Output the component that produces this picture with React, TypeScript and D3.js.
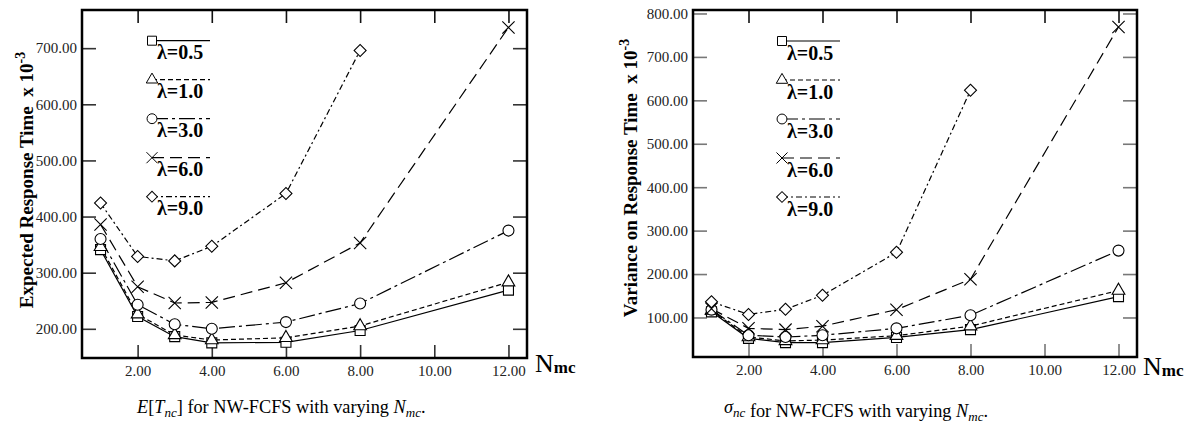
import { useEffect, useRef } from "react";
import * as d3 from "d3";

// number of mobile clients (x axis)
const nmc = [1, 2, 3, 4, 6, 8, 12];
const lambdas = ["0.5", "1.0", "3.0", "6.0", "9.0"];
const xTicks = [2, 4, 6, 8, 10, 12];

// expected response time, x 10^-3
const ert05 = [341, 222, 186, 175, 176, 197, 269];
const ert10 = [346, 226, 189, 180, 184, 205, 283];
const ert30 = [360, 243, 208, 200, 212, 245, 375];
const ert60 = [386, 275, 246, 247, 282, 353, 737];
const ert90 = [424, 329, 321, 347, 441, 696];
const ertTicks = [200, 300, 400, 500, 600, 700];

// variance on response time, x 10^-3
const var05 = [113, 52, 42, 42, 54, 72, 148];
const var10 = [116, 55, 46, 48, 58, 80, 162];
const var30 = [118, 59, 55, 59, 75, 105, 254];
const var60 = [120, 75, 72, 80, 118, 188, 769];
const var90 = [136, 107, 119, 151, 250, 623];
const varTicks = [100, 200, 300, 400, 500, 600, 700, 800];

const serif = "'Liberation Serif', 'Times New Roman', serif";
const dashes = [null, "5,3", "16,4,3,4", "12,6", "6,3,2,3"];

function marker(sel, i) {
  if (i === 0) sel.attr("d", d3.symbol(d3.symbolSquare, 100)());
  else if (i === 1) sel.attr("d", d3.symbol(d3.symbolTriangle, 70)());
  else if (i === 2) sel.attr("d", d3.symbol(d3.symbolCircle, 95)());
  else if (i === 3) sel.attr("d", d3.symbol(d3.symbolTimes, 100)());
  else sel.attr("d", d3.symbol(d3.symbolSquare, 72)());
}

function drawPanel(svg, p) {
  const x = d3.scaleLinear().domain([0.5, 12.5]).range([p.left, p.right]);
  const y = d3.scaleLinear().domain(p.yDomain).range([p.bottom, p.top]);
  const g = svg.append("g");

  const styleAx = (ax, col) => {
    ax.select(".domain").remove();
    ax.selectAll("line").attr("stroke", col).attr("stroke-width", 1.6);
    ax.selectAll("text").attr("font-family", serif).attr("font-size", 15).attr("fill", "#222");
  };

  g.append("g").attr("transform", `translate(0,${p.bottom})`)
    .call(d3.axisBottom(x).tickValues(xTicks).tickSize(-13).tickPadding(7).tickFormat(d3.format(".2f")))
    .call(ax => styleAx(ax, p.tickCol));
  g.append("g").attr("transform", `translate(0,${p.top})`)
    .call(d3.axisTop(x).tickValues(xTicks).tickSize(-13).tickFormat(() => ""))
    .call(ax => styleAx(ax, "#111"));
  g.append("g").attr("transform", `translate(${p.left},0)`)
    .call(d3.axisLeft(y).tickValues(p.yTicks).tickSize(-14).tickPadding(5).tickFormat(d3.format(".2f")))
    .call(ax => styleAx(ax, p.tickCol));
  g.append("g").attr("transform", `translate(${p.right},0)`)
    .call(d3.axisRight(y).tickValues(p.yTicks).tickSize(-14).tickFormat(() => ""))
    .call(ax => styleAx(ax, p.tickCol));

  g.append("rect").attr("x", p.left).attr("y", p.top)
    .attr("width", p.right - p.left).attr("height", p.bottom - p.top)
    .attr("fill", "none").attr("stroke", "#000").attr("stroke-width", 2.5);

  const line = d3.line().x(d => x(d[0])).y(d => y(d[1]));
  p.series.forEach((vals, i) => {
    const pts = vals.map((v, k) => [nmc[k], v]);
    g.append("path").datum(pts).attr("d", line)
      .attr("fill", "none").attr("stroke", "#000").attr("stroke-width", 1.2)
      .attr("stroke-dasharray", dashes[i]);
  });
  p.series.forEach((vals, i) => {
    vals.forEach((v, k) => {
      const m = g.append("path").attr("fill", i === 3 ? "none" : "#fff").attr("stroke", "#000").attr("stroke-width", 1.1);
      marker(m, i);
      m.attr("transform", `translate(${x(nmc[k])},${y(v)})${i === 4 ? " rotate(45)" : ""}`);
    });
  });

  // legend
  lambdas.forEach((l, i) => {
    const ly = p.legY + i * 39;
    g.append("line").attr("x1", p.legX).attr("x2", p.legX + 58).attr("y1", ly).attr("y2", ly)
      .attr("stroke", "#000").attr("stroke-width", 1.2).attr("stroke-dasharray", dashes[i]);
    const m = g.append("path").attr("fill", i === 3 ? "none" : "#fff").attr("stroke", "#000").attr("stroke-width", 1.1);
    marker(m, i);
    m.attr("transform", `translate(${p.legX},${ly})${i === 4 ? " rotate(45)" : ""} scale(0.9)`);
    g.append("text").attr("x", p.legX + 5).attr("y", ly + 18.5)
      .attr("font-family", serif).attr("font-size", 20).attr("font-weight", "bold")
      .text(`λ=${l}`);
  });

  // y title
  const t = g.append("text").attr("transform", `translate(${p.titleX},${p.titleY}) rotate(-90)`)
    .attr("text-anchor", "middle").attr("font-family", serif).attr("font-size", 19)
    .attr("font-weight", "bold").style("white-space", "pre");
  t.append("tspan").text(p.title + "  x 10");
  t.append("tspan").attr("dy", -8).attr("font-size", 14).text("-3");

  // N_mc label
  const n = g.append("text").attr("x", p.nX).attr("y", p.nY).attr("font-family", serif);
  n.append("tspan").attr("font-size", 26).text("N");
  n.append("tspan").attr("font-size", 17).attr("font-weight", "bold").attr("dy", 1).text("mc");
}

function caption(svg, x0, yb, head) {
  const t = svg.append("text").attr("x", x0).attr("y", yb)
    .attr("font-family", serif).attr("font-size", 18.3).style("white-space", "pre");
  head(t);
  t.append("tspan").text(" for NW-FCFS with varying ");
  t.append("tspan").attr("font-style", "italic").text("N");
  t.append("tspan").attr("font-style", "italic").attr("font-size", 13).attr("dy", 4).text("mc");
  t.append("tspan").attr("dy", -4).text(".");
}

export default function App() {
  const ref = useRef(null);

  useEffect(() => {
    const svg = d3.select(ref.current);
    svg.selectAll("*").remove();

    drawPanel(svg, {
      left: 82, right: 527, top: 10, bottom: 358,
      yDomain: [148, 768], yTicks: ertTicks, tickCol: "#333",
      series: [ert05, ert10, ert30, ert60, ert90],
      legX: 152, legY: 40.7,
      title: "Expected Response Time", titleX: 33, titleY: 180,
      nX: 535, nY: 372,
    });
    drawPanel(svg, {
      left: 693, right: 1137, top: 10, bottom: 357,
      yDomain: [9, 808], yTicks: varTicks, tickCol: "#777",
      series: [var05, var10, var30, var60, var90],
      legX: 782, legY: 41,
      title: "Variance on Response Time", titleX: 637, titleY: 178,
      nX: 1143, nY: 375,
    });

    caption(svg, 137, 413, t => {
      t.append("tspan").attr("font-style", "italic").text("E");
      t.append("tspan").text("[");
      t.append("tspan").attr("font-style", "italic").text("T");
      t.append("tspan").attr("font-style", "italic").attr("font-size", 13).attr("dy", 4).text("nc");
      t.append("tspan").attr("dy", -4).text("]");
    });
    caption(svg, 724, 413, t => {
      t.append("tspan").attr("font-style", "italic").text("σ");
      t.append("tspan").attr("font-style", "italic").attr("font-size", 13).attr("dy", 4).text("nc");
      t.append("tspan").attr("dy", -4).text("");
    });
  }, []);

  return (
    <svg ref={ref} width={1188} height={434}
      style={{ position: "absolute", left: 0, top: 0, background: "#fff" }} />
  );
}
